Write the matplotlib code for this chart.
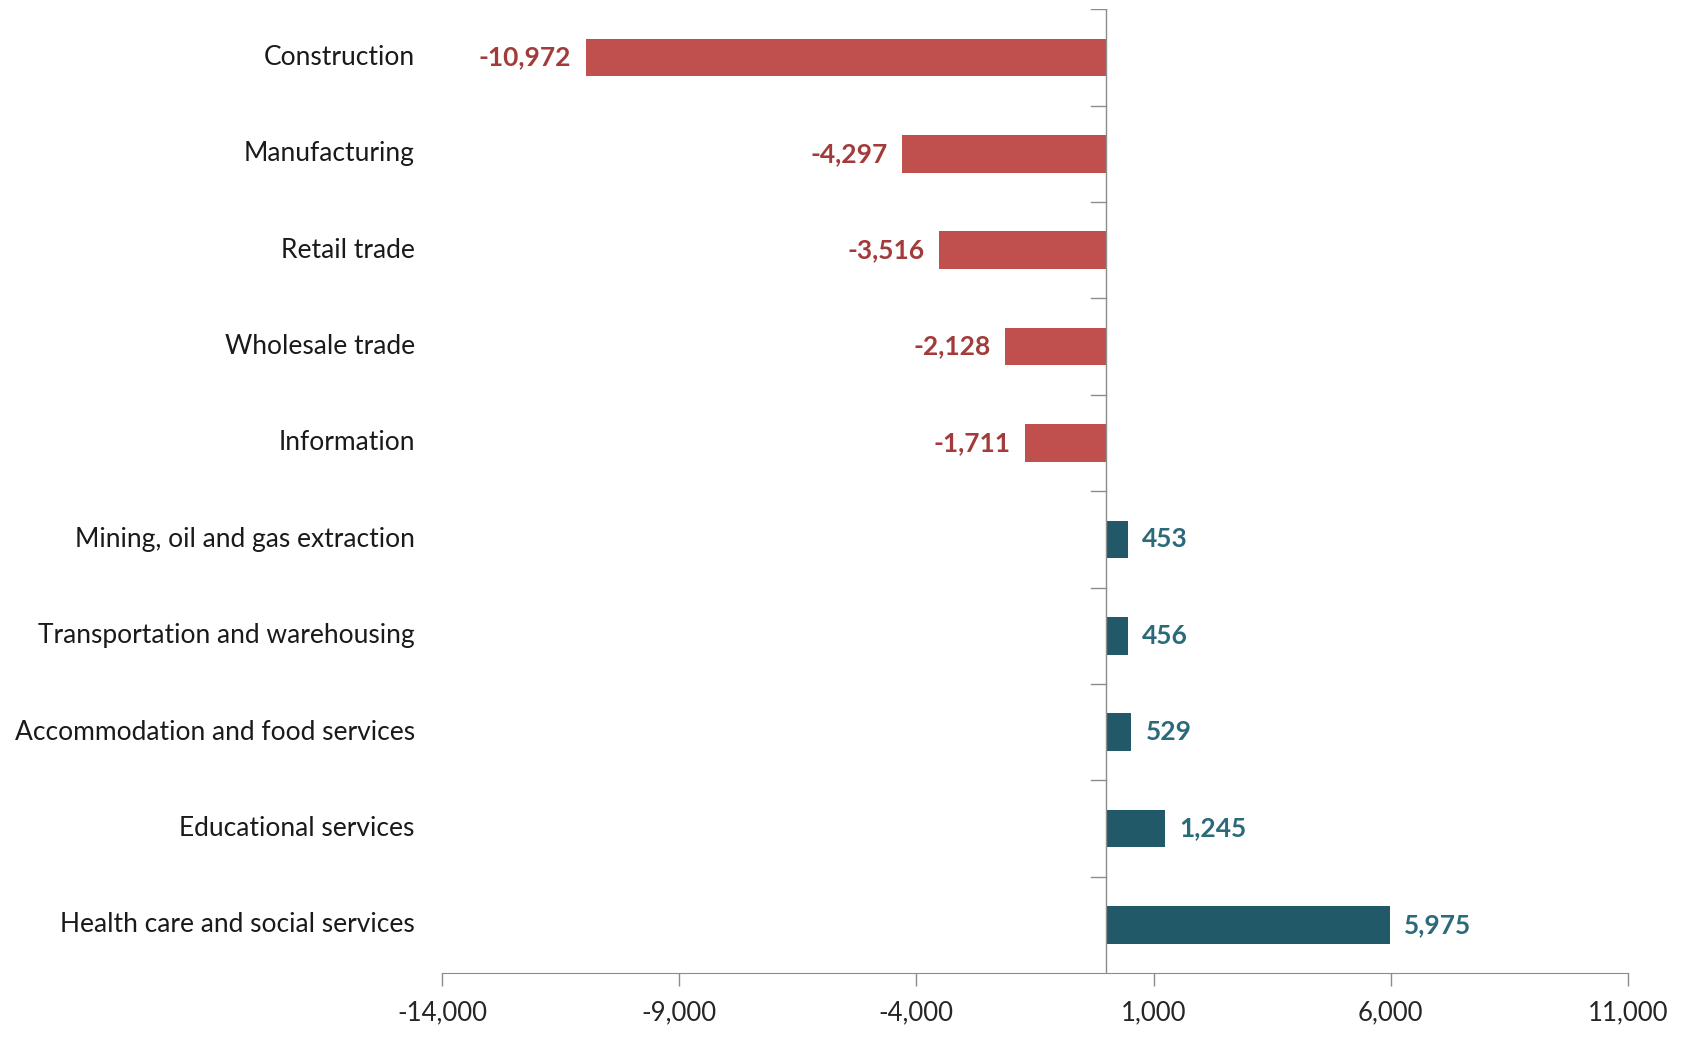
import matplotlib.pyplot as plt
import numpy as np
from matplotlib.ticker import FuncFormatter

plt.rcParams['font.family'] = ['Lato', 'DejaVu Sans']

industries = ["Construction", "Manufacturing", "Retail trade", "Wholesale trade",
              "Information", "Mining, oil and gas extraction",
              "Transportation and warehousing", "Accommodation and food services",
              "Educational services", "Health care and social services"]
change = [-10972, -4297, -3516, -2128, -1711, 453, 456, 529, 1245, 5975]
xticks = [-14000, -9000, -4000, 1000, 6000, 11000]

neg_bar, pos_bar = '#C0504D', '#215968'
neg_txt, pos_txt = '#A33B3A', '#2B6A7A'
axis_col = '#8C8C8C'

fig = plt.figure(figsize=(16.9, 10.37), dpi=100)
ax = fig.add_axes([0.2615, 0.0617, 0.7018, 0.9293])

y = np.arange(len(industries))
colors = [neg_bar if v < 0 else pos_bar for v in change]
ax.barh(y, change, height=0.39, color=colors, zorder=2)

for yi, v in zip(y, change):
    if v < 0:
        ax.text(v - 300, yi, f"{v:,}", ha='right', va='center', fontsize=19,
                fontweight='bold', color=neg_txt)
    else:
        ax.text(v + 300, yi, f"{v:,}", ha='left', va='center', fontsize=19,
                fontweight='bold', color=pos_txt)

ax.set_xlim(-14000, 11000)
ax.set_ylim(len(industries) - 0.5, -0.5)
ax.set_xticks(xticks)
ax.xaxis.set_major_formatter(FuncFormatter(lambda v, p: f"{int(v):,}"))
ax.tick_params(axis='x', direction='out', length=9, width=1, color=axis_col,
               labelsize=18.5, labelcolor='#262626', pad=11)

# category labels drawn as text to the left of the plot area
ax.set_yticks([])
for yi, name in zip(y, industries):
    ax.text(-0.023, yi, name, transform=ax.get_yaxis_transform(), ha='right',
            va='center', fontsize=19, color='#1A1A1A')

for s in ['top', 'right', 'left']:
    ax.spines[s].set_visible(False)
ax.spines['bottom'].set_color(axis_col)

# zero line with category separators
ax.axvline(0, color=axis_col, lw=1, zorder=3)
for b in np.arange(-0.5, len(industries) - 1, 1.0):
    ax.plot([0 - 320, 0], [b, b], color=axis_col, lw=1, zorder=3)

fig.savefig('out.png', dpi=100, facecolor='white')
